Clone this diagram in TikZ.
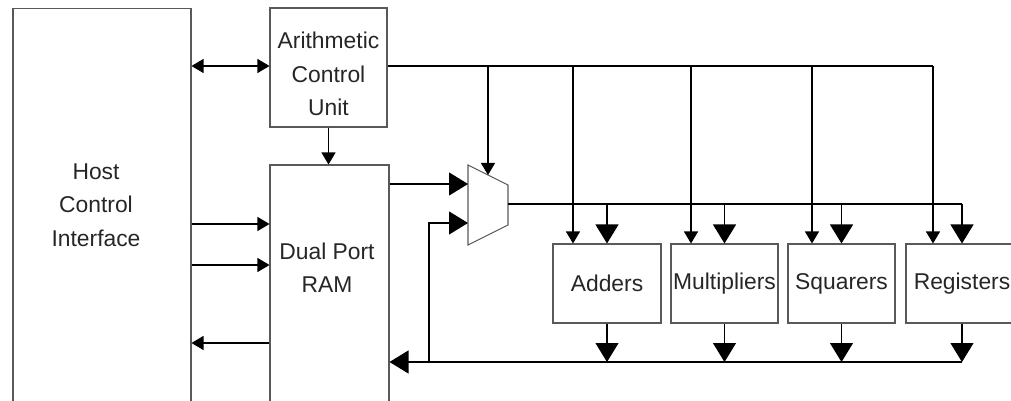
\documentclass[tikz,border=0pt]{standalone}
\usepackage{fontspec}
\setmainfont{Liberation Sans}
\usetikzlibrary{arrows.meta}
\usetikzlibrary{calc}

\tikzset{
	blk/.style={draw=black!65, line width=0.6pt, inner sep=0pt, font=\fontsize{13pt}{19pt}\selectfont, text=black!85},
	lbl/.style={align=center, inner sep=0pt, font=\fontsize{13pt}{19pt}\selectfont, text=black!85},
	small/.style={line width=0.6pt, -{Triangle[length=0.24cm,width=0.28cm]}},
	big/.style={line width=0.6pt, -{Triangle[length=0.38cm,width=0.46cm]}},
	dbl/.style={line width=0.6pt, {Triangle[length=0.24cm,width=0.28cm]}-{Triangle[length=0.24cm,width=0.28cm]}}
}

\newcommand{\funit}[4] % name, x centre in px, width in cm, text
{
	\node[blk, minimum width=#3cm, minimum height=1.58cm] (#1) at (#2,283.5) {#4};
}

\begin{document}
\begin{tikzpicture}[x=0.02cm, y=-0.02cm]
	% 1 unit = 1 px, y runs downwards
	\useasboundingbox (0,0) rectangle (1011,401);
	\clip (0,0) rectangle (1011,401);

	% host side and control
	\node[blk, minimum width=3.56cm, minimum height=7.92cm] (host) at (102,206) {};
	\node[lbl] (hosttxt) at (96,205) {Host\\Control\\Interface};
	\node[blk, minimum width=2.34cm, minimum height=2.38cm] (acu) at (328.5,67.5) {};
	\node[lbl] (acutxt) at (328.5,74) {Arithmetic\\Control\\Unit};
	\node[blk, minimum width=2.38cm, minimum height=5.1cm] (ram) at (329.5,292.5) {};
	\node[lbl] (ramtxt) at (327,268) {Dual Port\\RAM};

	% multiplexer
	\coordinate (mux1) at (468,165);
	\coordinate (mux2) at (508,185);
	\coordinate (mux3) at (508,225);
	\coordinate (mux4) at (468,245);
	\draw[blk] (mux1) -- (mux2) -- (mux3) -- (mux4) -- cycle;
	\coordinate (muxa) at (468,184);
	\coordinate (muxb) at (468,223);
	\coordinate (muxc) at (488,175);
	\coordinate (muxo) at (508,204);

	% function units
	\funit{add}{607}{2.16}{Adders}
	\funit{mul}{724.5}{2.14}{Multipliers}
	\funit{sqr}{841.5}{2.14}{Squarers}
	\funit{reg}{962}{2.24}{Registers}

	% host <-> acu, acu -> ram
	\draw[dbl] (host.east |- 0,66) -- (acu.west |- 0,66);
	\draw[small] (acu.south) -- (acu.south |- ram.north);

	% host <-> ram
	\draw[small] (host.east |- 0,224) -- (ram.west |- 0,224);
	\draw[small] (host.east |- 0,265) -- (ram.west |- 0,265);
	\draw[small] (ram.west |- 0,343) -- (host.east |- 0,343);

	% control bus
	\draw[line width=0.6pt] (acu.east |- 0,66) -- (933,66);
	\draw[small] (488,66) -- (muxc);

	% data into the mux
	\draw[big] (ram.east |- muxa) -- (muxa);
	\coordinate (tap) at (429,362);
	\draw[big] (tap) |- (muxb);

	% mux out, units, result bus
	\draw[line width=0.6pt] (muxo) -- (reg.north |- muxo);
	\foreach \b/\t in {add/573, mul/691, sqr/812, reg/933}
	{
		\draw[small] (\t,66) -- (\t,0 |- \b.north);
		\draw[big] (\b.north |- muxo) -- (\b.north);
		\draw[big] (\b.south) -- (\b.south |- tap);
	}
	\draw[big] (reg.south |- tap) -- (ram.east |- tap);
\end{tikzpicture}
\end{document}
